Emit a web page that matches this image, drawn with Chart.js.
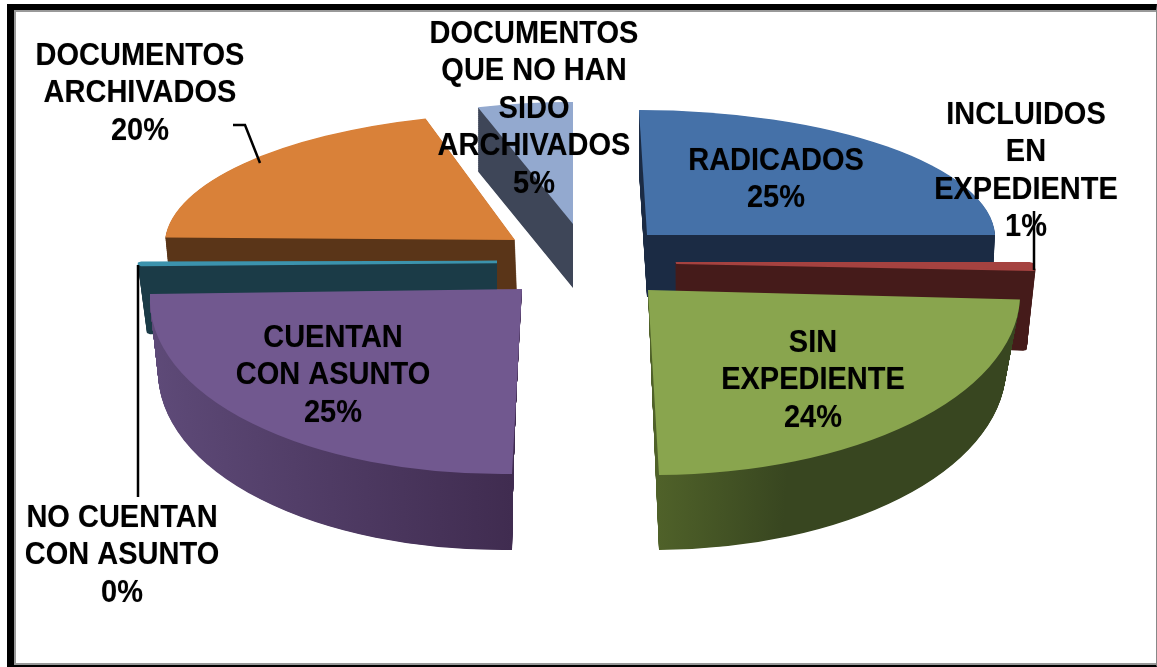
<!DOCTYPE html>
<html>
<head>
<meta charset="utf-8">
<title>Documentos</title>
<script src="https://cdn.jsdelivr.net/npm/chart.js@4"></script>
<style>
	body { margin: 0; background: #fff; }
	#wrap { position: relative; width: 1157px; height: 667px; overflow: hidden; }
	#frame {
		position: absolute; left: 7px; top: 4px; right: 0; bottom: 0;
		border-left: 7px solid #000; border-top: 6px solid #000;
		border-right: 1px solid #888; border-bottom: 2px solid #000;
		box-shadow: inset 2px 2px 0 #999, inset 0 -2px 0 #999;
	}
	canvas { position: absolute; left: 0; top: 0; }
</style>
</head>
<body>
<div id="wrap">
	<div id="frame"></div>
	<canvas id="pie" width="1157" height="667"></canvas>
</div>
<script>
const categories = ['RADICADOS', 'INCLUIDOS EN EXPEDIENTE', 'SIN EXPEDIENTE', 'CUENTAN CON ASUNTO', 'NO CUENTAN CON ASUNTO', 'DOCUMENTOS ARCHIVADOS', 'DOCUMENTOS QUE NO HAN SIDO ARCHIVADOS'];
const values = [25, 1, 24, 25, 0.3, 20, 4.7];

const topColors = ['#4571a8', '#a54240', '#89a54e', '#71588f', '#3c93ad', '#d98139', '#93a9cf'];
const wallLeft = ['#1b2b44', '#451b1a', '#4f6129', '#5e4a78', '#1b3b47', '#5a3518', '#3e4658'];
const wallRight = ['#1b2b44', '#451b1a', '#384620', '#402c50', '#1b3b47', '#5a3518', '#3e4658'];

// the thin slices fade out near the apex without a stroke
const edgeWidth = [0, 6, 0, 0, 6, 0, 0];

// the old 3D look: every slice gets its own tilt, top face and bottom face
// o = apex offset from the pie centre, x/y = where the 3 and 6 o'clock radii end up
const faces = [
	{ top: { o: [68.5, -98.5], x: [348, 0], y: [8, 125] }, bottom: { o: [68.5, -36.5], x: [345, 0], y: [8, 125] } },
	{ top: { o: [97.5, -70.5], x: [354, 0], y: [50, 110] }, bottom: { o: [97.5, 1.5], x: [348, 8], y: [0, 110] } },
	{ top: { o: [69.5, -43.5], x: [372, -2], y: [11, 185] }, bottom: { o: [72.5, 31.5], x: [355, -2], y: [8, 185] } },
	{ top: { o: [-56.5, -44.5], x: [372, -5], y: [-10, 185] }, bottom: { o: [-63.5, 31.5], x: [357, -5], y: [-3, 185] } },
	{ top: { o: [-81.5, -71.5], x: [356, -3], y: [0, 130] }, bottom: { o: [-81.5, -3.5], x: [347, -3], y: [0, 130] } },
	{ top: { o: [-63.5, -93.5], x: [350, 0], y: [-13, 127] }, bottom: { o: [-61.5, -43.5], x: [347, 0], y: [-13, 127] } },
	{ top: { o: [-5.5, -109.5], x: [327, 0], y: [0, 122] }, bottom: { o: [-5.5, -45.5], x: [327, 0], y: [0, 122] } }
];
const drawOrder = [0, 5, 6, 4, 1, 2, 3];

const labelLines = [
	['RADICADOS'],
	['INCLUIDOS', 'EN', 'EXPEDIENTE'],
	['SIN', 'EXPEDIENTE'],
	['CUENTAN', 'CON ASUNTO'],
	['NO CUENTAN', 'CON ASUNTO'],
	['DOCUMENTOS', 'ARCHIVADOS'],
	['DOCUMENTOS', 'QUE NO HAN', 'SIDO', 'ARCHIVADOS']
];
const labelX = [776, 1026, 813, 333, 122, 140, 534];
const labelY = [161, 115, 343, 338, 518, 56, 34];
const lineGap = 37.5;
const textStretch = 1.1;

const leaderLines = [
	[[233, 125], [245, 125], [260, 163]],
	[[1034, 211], [1034, 270]],
	[[138, 265], [138, 497]]
];

const total = values.reduce((a, b) => a + b, 0);

function mix(a, b, t) {
	return a + (b - a) * t;
}

function placeSlice(ctx, el, f1, f2, t) {
	const R = el.outerRadius;
	const a = mix(f1.x[0], f2.x[0], t) / R;
	const b = mix(f1.x[1], f2.x[1], t) / R;
	const c = mix(f1.y[0], f2.y[0], t) / R;
	const d = mix(f1.y[1], f2.y[1], t) / R;
	const ax = el.x + mix(f1.o[0], f2.o[0], t);
	const ay = el.y + mix(f1.o[1], f2.o[1], t);
	ctx.transform(a, b, c, d, ax - a * el.x - c * el.y, ay - b * el.x - d * el.y);
}

function paintArc(ctx, el, fill, edge) {
	const saved = el.options;
	el.options = Object.assign({}, saved, { backgroundColor: fill, borderColor: fill, borderWidth: edge });
	el.draw(ctx);
	el.options = saved;
}

const pie3d = {
	id: 'pie3d',
	beforeDatasetDraw() {
		return false; // slices are painted below, one by one
	},
	afterDatasetsDraw(chart) {
		const ctx = chart.ctx;
		const arcs = chart.getDatasetMeta(0).data;
		drawOrder.forEach(i => {
			const el = arcs[i];
			const f = faces[i];
			const R = el.outerRadius;
			const mid = (el.startAngle + el.endAngle) / 2;
			const from = Math.cos(mid) < 0 ? el.x - R : el.x;
			const grad = ctx.createLinearGradient(from, 0, from + R, 0);
			grad.addColorStop(0, wallLeft[i]);
			grad.addColorStop(i === 2 ? 0.35 : 1, wallRight[i]);
			const steps = Math.ceil(Math.abs(f.bottom.o[1] - f.top.o[1]) * 1.5);
			for (let s = steps; s > 0; s--) {
				ctx.save();
				placeSlice(ctx, el, f.top, f.bottom, s / steps);
				paintArc(ctx, el, grad, edgeWidth[i]);
				ctx.restore();
			}
			ctx.save();
			placeSlice(ctx, el, f.top, f.bottom, 0);
			paintArc(ctx, el, topColors[i], edgeWidth[i]);
			ctx.restore();
		});

		ctx.save();
		ctx.strokeStyle = '#000';
		ctx.lineWidth = 2.5;
		leaderLines.forEach(line => {
			ctx.beginPath();
			line.forEach((p, k) => k ? ctx.lineTo(p[0], p[1]) : ctx.moveTo(p[0], p[1]));
			ctx.stroke();
		});
		ctx.restore();

		ctx.save();
		ctx.font = 'bold 29px "Liberation Sans", Arial, sans-serif';
		ctx.textAlign = 'center';
		ctx.textBaseline = 'middle';
		ctx.fillStyle = '#000';
		ctx.shadowColor = 'rgba(0,0,0,0.3)';
		ctx.shadowBlur = 1;
		categories.forEach((name, i) => {
			const pct = Math.round(values[i] / total * 100) + '%';
			labelLines[i].concat(pct).forEach((line, k) => {
				ctx.save();
				ctx.translate(labelX[i], labelY[i] + k * lineGap);
				ctx.scale(1, textStretch);
				ctx.fillText(line, 0, 0);
				ctx.restore();
			});
		});
		ctx.restore();
	}
};

new Chart(document.getElementById('pie'), {
	type: 'pie',
	data: {
		labels: categories,
		datasets: [{
			data: values,
			backgroundColor: topColors,
			borderWidth: 0
		}]
	},
	options: {
		responsive: false,
		animation: false,
		layout: { padding: 0 },
		plugins: {
			legend: { display: false },
			tooltip: { enabled: false }
		}
	},
	plugins: [pie3d]
});
</script>
</body>
</html>
